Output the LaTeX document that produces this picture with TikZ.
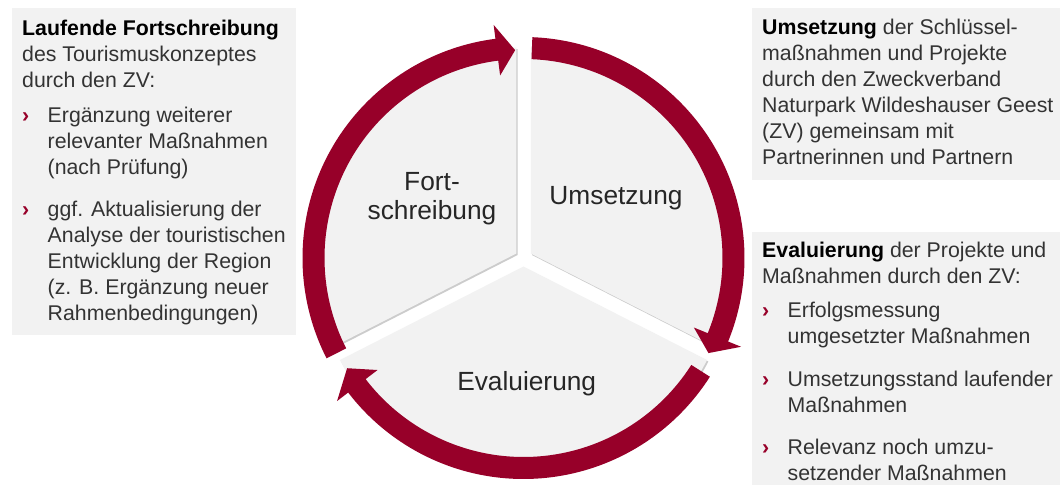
\documentclass[tikz,border=0pt]{standalone}
\usepackage{fontspec}
\setmainfont{Liberation Sans}
\definecolor{myred}{RGB}{151,0,41}
\definecolor{boxgray}{RGB}{242,242,242}
\definecolor{txt}{RGB}{51,51,51}
\newcommand\bul{\makebox[25.5pt][l]{\textcolor{myred}{\bfseries ›}}}
\newcommand\ind{\hspace*{25.5pt}}
\begin{document}
\begin{tikzpicture}[x=1pt,y=1pt,
  box/.style={fill=boxgray, draw=none},
  body/.style={anchor=north west, inner sep=0pt, align=left, text=txt, font=\fontsize{21.3}{26}\selectfont},
  cyc/.style={font=\fontsize{26.3}{29}\selectfont, text=black!85, align=center, inner sep=0pt},
  sector/.style={fill=boxgray},
  shade/.style={fill=black!20},
  ring/.style={fill=myred}]
\useasboundingbox (0,0) rectangle (1060,485);
\fill[white] (0,0) rectangle (1060,485);

% text boxes
\path[box] (12,150) rectangle (296,477);
\path[box] (752,305) rectangle (1060,477);
\path[box] (752,0) rectangle (1060,253);

\coordinate (C) at (523.5,227);
\begin{scope}[shift={(C)}]
  % shadows
  \fill[shade, shift={(148.5:8.5)}, xshift=1.3pt, yshift=-1.5pt] (0,0) -- (90:206) arc[start angle=90,end angle=207,radius=206] -- cycle;
  \fill[shade, shift={(31.5:8.5)}, xshift=1.3pt, yshift=-1.5pt] (0,0) -- (-27:206) arc[start angle=-27,end angle=90,radius=206] -- cycle;
  \fill[shade, shift={(270:8.5)}, xshift=1.3pt, yshift=-1.5pt] (0,0) -- (207:206) arc[start angle=207,end angle=333,radius=206] -- cycle;
  % sectors
  \fill[sector, shift={(148.5:8.5)}] (0,0) -- (90:206) arc[start angle=90,end angle=207,radius=206] -- cycle;
  \fill[sector, shift={(31.5:8.5)}] (0,0) -- (-27:206) arc[start angle=-27,end angle=90,radius=206] -- cycle;
  \fill[sector, shift={(270:8.5)}] (0,0) -- (207:206) arc[start angle=207,end angle=333,radius=206] -- cycle;
  % ring arrows
  \fill[ring] (207:221) arc[start angle=207,end angle=97.3,radius=221] -- (97.3:235) -- (92.3:208) -- (97.3:184) -- (97.3:199) arc[start angle=97.3,end angle=207,radius=199] -- cycle;
  \fill[ring] (87.7:221) arc[start angle=87.7,end angle=-22.2,radius=221] -- (-22.2:235) -- (-27.2:208) -- (-22.2:184) -- (-22.2:199) arc[start angle=-22.2,end angle=87.7,radius=199] -- cycle;
  \fill[ring] (-32.5:221) arc[start angle=-32.5,end angle=-142.5,radius=221] -- (-142.5:235) -- (-148:208) -- (-142.5:184) -- (-142.5:199) arc[start angle=-142.5,end angle=-32.5,radius=199] -- cycle;
\end{scope}

% cycle labels
\node[cyc, anchor=north] (fort) at (432,315.3) {\strut Fort-\\schreibung};
\node[cyc, anchor=base] (ums) at (616,280) {Umsetzung};
\node[cyc, anchor=base] (eval) at (526.7,95) {Evaluierung};

% left text
\node[body] (lefttext) at (22,468.2) {\strut\textcolor{black}{\bfseries Laufende Fortschreibung}\\
des Tourismuskonzeptes\\
durch den ZV:\\[9pt]
\bul Ergänzung weiterer\\
\ind relevanter Maßnahmen\\
\ind (nach Prüfung)\\[16pt]
\bul ggf. Aktualisierung der\\
\ind Analyse der touristischen\\
\ind Entwicklung der Region\\
\ind (z. B. Ergänzung neuer\\
\ind Rahmenbedingungen)};

% right top text
\node[body] (umstext) at (762,469.2) {\strut\textcolor{black}{\bfseries Umsetzung} der Schlüssel-\\
maßnahmen und Projekte\\
durch den Zweckverband\\
Naturpark Wildeshauser Geest\\
(ZV) gemeinsam mit\\
Partnerinnen und Partnern};

% right bottom text
\node[body] (evaltext) at (762,246.2) {\strut\textcolor{black}{\bfseries Evaluierung} der Projekte und\\
Maßnahmen durch den ZV:\\[8pt]
\bul Erfolgsmessung\\
\ind umgesetzter Maßnahmen\\[17pt]
\bul Umsetzungsstand laufender\\
\ind Maßnahmen\\[16pt]
\bul Relevanz noch umzu-\\
\ind setzender Maßnahmen};
\end{tikzpicture}
\end{document}
